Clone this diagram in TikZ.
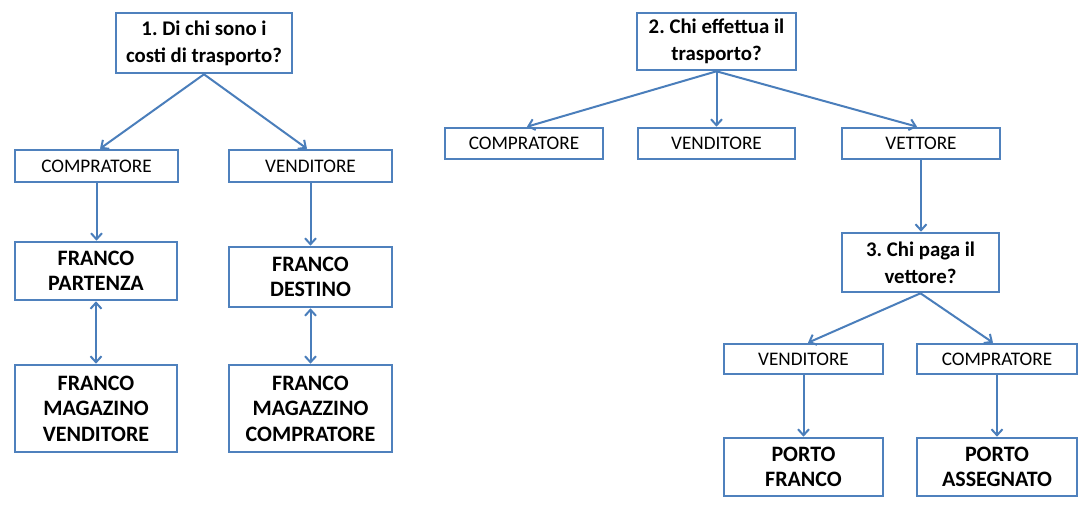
\documentclass[tikz,border=0pt]{standalone}
\usepackage{fontspec}
\setmainfont{Carlito}
\usetikzlibrary{arrows.meta}
\definecolor{boxblue}{HTML}{4F81BD}
\definecolor{arrblue}{HTML}{4A7EBB}
\tikzset{
  base/.style={draw=boxblue, line width=2.6pt, fill=white, inner sep=0pt, align=center, text=black},
  small/.style={base, font=\frenchspacing\fontsize{19.2}{23}\selectfont},
  ques/.style={base, font=\frenchspacing\bfseries\fontsize{20.8}{27}\selectfont},
  ans/.style={base, font=\frenchspacing\bfseries\fontsize{22}{25.5}\selectfont},
  arr/.style={draw=arrblue, line width=2pt, -{Straight Barb[length=6pt,width=11pt,line width=2pt]}},
  darr/.style={draw=arrblue, line width=2pt, {Straight Barb[length=6pt,width=11pt,line width=2pt]}-{Straight Barb[length=6pt,width=11pt,line width=2pt]}}
}
\begin{document}
\begin{tikzpicture}[x=1pt,y=-1pt]
\useasboundingbox[fill=white] (0,0) rectangle (1088,513);
% left tree
\node[ques, minimum width=176pt, minimum height=60pt] (q1) at (204,43) {1. Di chi sono i\\costi di trasporto?};
\node[small, minimum width=163pt, minimum height=32pt] (lc) at (96.5,166) {COMPRATORE};
\node[small, minimum width=163pt, minimum height=32pt] (lv) at (310.5,166) {VENDITORE};
\node[ans, minimum width=162pt, minimum height=58pt] (fp) at (96,271) {FRANCO\\PARTENZA};
\node[ans, minimum width=163pt, minimum height=60pt] (fd) at (310.5,277) {FRANCO\\DESTINO};
\node[ans, minimum width=162pt, minimum height=87pt] (fmv) at (96,408.5) {FRANCO\\MAGAZINO\\VENDITORE};
\node[ans, minimum width=163pt, minimum height=87pt] (fmc) at (310.5,408.5) {FRANCO\\MAGAZZINO\\COMPRATORE};
% right tree
\node[ques, minimum width=159pt, minimum height=57pt] (q2) at (716.5,41.5) {2. Chi effettua il\\trasporto?};
\node[small, minimum width=158pt, minimum height=31pt] (rc) at (524,143.5) {COMPRATORE};
\node[small, minimum width=157pt, minimum height=31pt] (rv) at (716.5,143.5) {VENDITORE};
\node[small, minimum width=158pt, minimum height=31pt] (rt) at (921,143.5) {VETTORE};
\node[ques, minimum width=157pt, minimum height=59pt] (q3) at (920.5,262.5) {3. Chi paga il\\vettore?};
\node[small, minimum width=159pt, minimum height=30pt] (bv) at (803.5,359) {VENDITORE};
\node[small, minimum width=160pt, minimum height=30pt] (bc) at (997,359) {COMPRATORE};
\node[ans, minimum width=159pt, minimum height=58pt] (pf) at (803.5,467) {PORTO\\FRANCO};
\node[ans, minimum width=160pt, minimum height=58pt] (pa) at (997,467) {PORTO\\ASSEGNATO};
% connectors
\draw[arr] (q1.south) -- ([xshift=3.5pt]lc.north);
\draw[arr] (q1.south) -- ([xshift=-3.5pt]lv.north);
\draw[arr] (lc.south) -- (lc.south |- fp.north);
\draw[arr] (lv.south) -- (lv.south |- fd.north);
\draw[darr] (fp.south) -- (fp.south |- fmv.north);
\draw[darr] (fd.south) -- (fd.south |- fmc.north);
\draw[arr] (q2.south) -- ([xshift=3pt]rc.north);
\draw[arr] (q2.south) -- (rv.north);
\draw[arr] (q2.south) -- ([xshift=-4pt]rt.north);
\draw[arr] (rt.south) -- (rt.south |- q3.north);
\draw[arr] (q3.south) -- ([xshift=4.5pt]bv.north);
\draw[arr] (q3.south) -- ([xshift=-4pt]bc.north);
\draw[arr] (bv.south) -- (bv.south |- pf.north);
\draw[arr] (bc.south) -- (bc.south |- pa.north);
\end{tikzpicture}
\end{document}
